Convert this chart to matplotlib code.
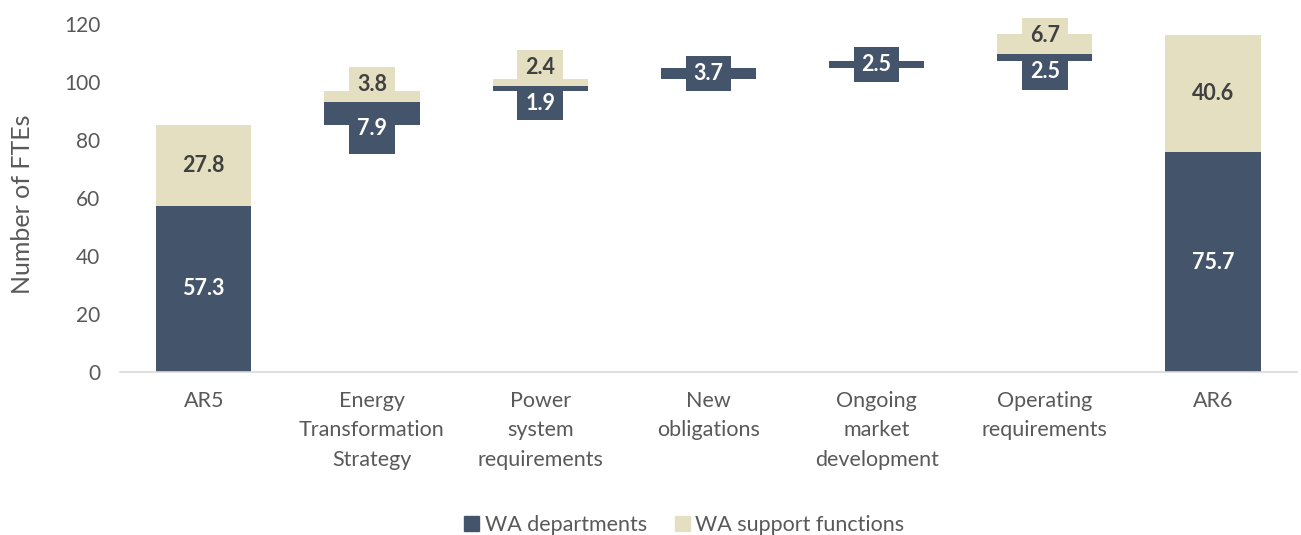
import matplotlib.pyplot as plt
import numpy as np

plt.rcParams['font.family'] = ['Lato', 'DejaVu Sans']

categories = ["AR5", "Energy\nTransformation\nStrategy", "Power\nsystem\nrequirements",
              "New\nobligations", "Ongoing\nmarket\ndevelopment", "Operating\nrequirements", "AR6"]
# totals for the start and end bars, increments for the steps in between
departments = [57.3, 7.9, 1.9, 3.7, 2.5, 2.5, 75.7]
support = [27.8, 3.8, 2.4, 0.0, 0.0, 6.7, 40.6]

dark = "#44546A"
beige = "#E4DFC1"
grey = "#595959"
lblsize = 15.5

fig = plt.figure(figsize=(13.01, 5.35), dpi=100)
ax = fig.add_axes([0.092, 0.305, 0.905, 0.65])

x = np.arange(len(categories))
bw = 0.565
lw = 0.27
last = len(categories) - 1

level = 0.0
for i in x:
    d, s = departments[i], support[i]
    if i == 0 or i == last:
        ax.bar(i, d, bw, color=dark, zorder=2)
        ax.bar(i, s, bw, bottom=d, color=beige, zorder=2)
        ax.text(i, d / 2, f"{d:.1f}", ha="center", va="center", color="white",
                fontsize=lblsize, fontweight="bold", zorder=5)
        ax.text(i, d + s / 2, f"{s:.1f}", ha="center", va="center", color="#404040",
                fontsize=lblsize, fontweight="bold", zorder=5)
        level = d + s
        continue
    # step segments
    ax.bar(i, d, bw, bottom=level, color=dark, zorder=2)
    if s > 0:
        ax.bar(i, s, bw, bottom=level + d, color=beige, zorder=2)
        # label boxes: departments hang below, support sits above
        ax.bar(i, d + 10, lw, bottom=level - 10, color=dark, zorder=3)
        ax.text(i, level + d / 2 - 5, f"{d:.1f}", ha="center", va="center", color="white",
                fontsize=lblsize, fontweight="bold", zorder=5)
        sb = level + d
        ax.bar(i, 12.3, lw, bottom=sb, color=beige, zorder=3, clip_on=False)
        ax.text(i, sb + 6.15, f"{s:.1f}", ha="center", va="center", color="#404040",
                fontsize=lblsize, fontweight="bold", zorder=5, clip_on=False)
    else:
        mid = level + d / 2
        ax.bar(i, 12.4, lw, bottom=mid - 6.2, color=dark, zorder=3)
        ax.text(i, mid, f"{d:.1f}", ha="center", va="center", color="white",
                fontsize=lblsize, fontweight="bold", zorder=5)
    level += d + s

ax.set_xlim(-0.5, len(categories) - 0.5)
ax.set_ylim(0, 120)
ax.set_yticks(range(0, 121, 20))
ax.set_xticks(x)
ax.set_xticklabels(categories, fontsize=15.5, color=grey, linespacing=1.57)
ax.tick_params(axis="y", length=0, labelsize=15, labelcolor=grey, pad=14)
ax.tick_params(axis="x", length=0, pad=14)
ax.set_ylabel("Number of FTEs", fontsize=18, color=grey)
ax.yaxis.set_label_coords(-0.073, 0.483)

for side in ["top", "right", "left"]:
    ax.spines[side].set_visible(False)
ax.spines["bottom"].set_color("#D9D9D9")
ax.spines["bottom"].set_linewidth(1.2)

handles = [plt.Rectangle((0, 0), 1, 1, color=dark), plt.Rectangle((0, 0), 1, 1, color=beige)]
fig.legend(handles, ["WA departments", "WA support functions"], loc="center",
           bbox_to_anchor=(0.526, 0.019), ncol=2, frameon=False, fontsize=15.5,
           labelcolor=grey, handlelength=0.7, handleheight=0.7, handletextpad=0.25,
           columnspacing=1.3, borderpad=0)

fig.savefig("out.png", dpi=100)
